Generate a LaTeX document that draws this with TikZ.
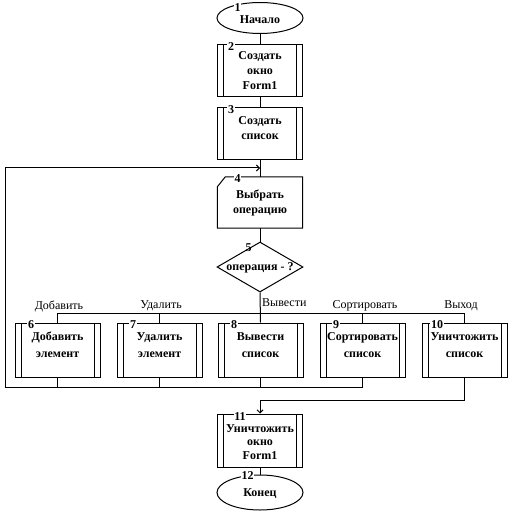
\documentclass[tikz,border=0pt]{standalone}
\usepackage{fontspec}
\setmainfont{Liberation Serif}
\usetikzlibrary{shapes.geometric,arrows.meta}
\tikzset{
  ln/.style={draw,line width=1pt},
  arr/.style={ln,-{Straight Barb[length=3pt,width=6pt]}},
  term/.style={ellipse,draw,line width=1pt,minimum width=86pt,minimum height=31pt,inner sep=0pt},
  proc/.style={rectangle,draw,line width=1pt,minimum width=85pt,minimum height=52pt,inner sep=0pt,
    path picture={\draw[line width=1pt] ([xshift=6pt]path picture bounding box.north west) -- ([xshift=6pt]path picture bounding box.south west);
                  \draw[line width=1pt] ([xshift=-6pt]path picture bounding box.north east) -- ([xshift=-6pt]path picture bounding box.south east);}},
  num/.style={fill=white,inner sep=0.8pt,font=\bfseries\fontsize{12}{12}\selectfont},
  txt/.style={align=center,inner sep=0pt,font=\bfseries\fontsize{12}{15}\selectfont},
  txtb/.style={align=center,inner sep=0pt,font=\bfseries\fontsize{12}{17}\selectfont},
  lab/.style={inner sep=0pt,font=\fontsize{12}{12}\selectfont}
}
\begin{document}
\begin{tikzpicture}[x=1pt,y=-1pt]
\useasboundingbox (0,0) rectangle (516,521);
% shapes
\node[term] (e1) at (260,18) {};
\node[proc] (b2) at (260,71) {};
\node[proc] (b3) at (260,134) {};
\node[minimum width=85pt,minimum height=51pt,inner sep=0pt] (b4) at (260,202.5) {};
\draw[ln] (b4.south west) -- ([yshift=-10pt]b4.north west) -- ([xshift=8pt]b4.north west) -- (b4.north east) -- (b4.south east) -- cycle;
\node[diamond,draw,line width=1pt,minimum width=86pt,minimum height=50pt,inner sep=0pt] (d5) at (260,267) {};
\node[proc,minimum height=54pt] (b6) at (57.5,350) {};
\node[proc,minimum height=54pt] (b7) at (159.5,350) {};
\node[proc,minimum height=54pt] (b8) at (260.5,350) {};
\node[proc,minimum height=54pt] (b9) at (362.5,350) {};
\node[proc,minimum height=54pt] (b10) at (464.5,350) {};
\node[proc,minimum height=53pt] (b11) at (260,440.5) {};
\node[term,minimum height=35pt] (e12) at (260,492.5) {};
% connectors
\coordinate (m34) at (260,168);
\coordinate (jL) at (5,387);
\coordinate (jR) at (260,400);
\draw[ln] (e1.south) -- (b2.north);
\draw[ln] (b2.south) -- (b3.north);
\draw[ln] (b3.south) -- (b4.north);
\draw[ln] (b4.south) -- (d5.north);
\draw[ln] (d5.south) -- (b8.north);
\draw[ln] (b6.north) -- (b6.north |- 0,313) -- (b10.north |- 0,313) -- (b10.north);
\draw[ln] (b7.north) -- (b7.north |- 0,313);
\draw[ln] (b9.north) -- (b9.north |- 0,313);
\draw[ln] (b6.south) -- (b6.south |- jL);
\draw[ln] (b7.south) -- (b7.south |- jL);
\draw[ln] (b8.south) -- (b8.south |- jL);
\draw[arr] (b9.south) -- (b9.south |- jL) -- (jL) -- (jL |- m34) -- (m34);
\draw[arr] (b10.south) -- (b10.south |- jR) -- (jR) -- (b11.north);
\draw[ln] (b11.south) -- (e12.north);
% texts
\node[txt] (t1) at (260,20) {Начало};
\node[txt] (t2) at (260,70.5) {Создать\\окно\\Form1};
\node[txt] (t3) at (260,128) {Создать\\список};
\node[txt] (t4) at (260,203) {Выбрать\\операцию};
\node[txt] (t5) at (260,268) {операция - ?};
\node[txtb] (t6) at (57.5,345) {Добавить\\элемент};
\node[txtb] (t7) at (159.5,345) {Удалить\\элемент};
\node[txtb] (t8) at (260.5,345) {Вывести\\список};
\node[txtb] (t9) at (362.5,345) {Сортировать\\список};
\node[txtb] (t10) at (464.5,345) {Уничтожить\\список};
\node[txt,font=\bfseries\fontsize{12}{13.5}\selectfont] (t11) at (260,442) {Уничтожить\\окно\\Form1};
\node[txt] (t12) at (260,493.5) {Конец};
% branch labels
\node[lab] (l1) at (59,306) {Добавить};
\node[lab] (l2) at (161,306) {Удалить};
\node[lab,anchor=west] (l3) at (262,303) {Вывести};
\node[lab] (l4) at (365,306) {Сортировать};
\node[lab] (l5) at (461,306) {Выход};
% numbers
\node[num] (n1) at (237.5,7.5) {1};
\node[num] (n2) at (231,47) {2};
\node[num] (n3) at (231,110) {3};
\node[num] (n4) at (237.5,179) {4};
\node[num,fill=none] (n5) at (248.5,248) {5};
\node[num] (n6) at (31,324.5) {6};
\node[num] (n7) at (133,324.5) {7};
\node[num] (n8) at (234,324.5) {8};
\node[num] (n9) at (336,324.5) {9};
\node[num] (n10) at (437,324.5) {10};
\node[num] (n11) at (240,416.5) {11};
\node[num] (n12) at (247.5,475.5) {12};
\end{tikzpicture}
\end{document}
